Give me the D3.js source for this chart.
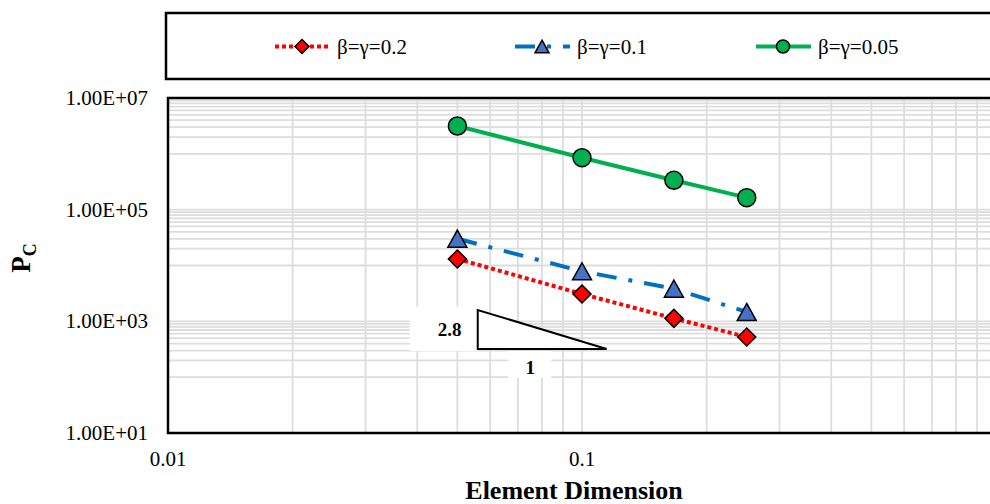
<!DOCTYPE html>
<html>
<head>
<meta charset="utf-8">
<script src="https://cdn.jsdelivr.net/npm/d3@7"></script>
<style>
  html, body { margin: 0; padding: 0; background: #fff; }
  svg { display: block; }
  svg text { font-family: "Liberation Serif", serif; }
</style>
</head>
<body>
<svg id="chart" width="990" height="504"></svg>
<script>
// ---- data ----
const elementDimension = [0.05, 0.1, 0.1667, 0.25];
const series02 = [13100, 3090, 1130, 524];      // β=γ=0.2
const series01 = [30200, 7870, 3840, 1470];     // β=γ=0.1
const series005 = [3150000, 852000, 336000, 164000]; // β=γ=0.05
const seriesNames = ["β=γ=0.2", "β=γ=0.1", "β=γ=0.05"];
const xTickLabels = [0.01, 0.1];
const yTickLabels = [10, 1000, 100000, 10000000];
// slope annotation (data coordinates)
const slopeTriX = [0.0560, 0.1147];
const slopeTriY = [319.6, 1596];
const slopeLabels = ["2.8", "1"];

// ---- layout ----
const FONT = "Liberation Serif";
const svg = d3.select("#chart");
const pLeft = 168, pTop = 98, pBottom = 433, pRight = 996;
const x = d3.scaleLog().domain([0.01, 1]).range([pLeft, pRight]);
const y = d3.scaleLog().domain([10, 1e7]).range([pBottom, pTop]);

// gridlines
const grid = svg.append("g");
grid.selectAll("line.vx").data(x.ticks().filter(v => x(v) > pLeft + 1 && x(v) < 990))
  .join("line")
  .attr("x1", d => x(d)).attr("x2", d => x(d))
  .attr("y1", pTop).attr("y2", pBottom)
  .attr("stroke", "#dddddd").attr("stroke-width", 1.8);
const yGrid = y.ticks().filter(v => {
  const e = Math.floor(Math.log10(v) + 1e-9);
  const isPow = Math.abs(v / Math.pow(10, e) - 1) < 1e-6;
  return (isPow || e % 2 === 0) && y(v) > pTop + 1 && y(v) < pBottom - 1;
});
grid.selectAll("line.hy").data(yGrid)
  .join("line")
  .attr("x1", pLeft).attr("x2", 990)
  .attr("y1", d => y(d)).attr("y2", d => y(d))
  .attr("stroke", "#dddddd").attr("stroke-width", 1.8);

// frame
svg.append("path")
  .attr("d", `M${pRight},${pTop} H${pLeft} V${pBottom} H${pRight}`)
  .attr("fill", "none").attr("stroke", "#000").attr("stroke-width", 2.5);

// axis labels
svg.append("g").selectAll("text").data(yTickLabels).join("text")
  .attr("x", 148).attr("y", d => y(d)).attr("dy", "0.34em")
  .attr("text-anchor", "end").attr("font-size", 21).attr("font-family", FONT).attr("fill", "#000")
  .text(d => {
    const e = Math.round(Math.log10(d));
    return "1.00E+" + String(e).padStart(2, "0");
  });
svg.append("g").selectAll("text").data(xTickLabels).join("text")
  .attr("x", d => x(d)).attr("y", 466)
  .attr("text-anchor", "middle").attr("font-size", 21).attr("font-family", FONT).attr("fill", "#000")
  .text(d => String(d));

svg.append("text").attr("x", 574).attr("y", 498.5).attr("text-anchor", "middle")
  .attr("font-size", 26).attr("font-family", FONT).attr("font-weight", "bold").text("Element Dimension");
const yt = svg.append("text").attr("transform", "translate(30,258) rotate(-90)")
  .attr("text-anchor", "middle").attr("font-family", FONT).attr("font-weight", "bold");
yt.append("tspan").attr("font-size", 27).text("P");
yt.append("tspan").attr("font-size", 18).attr("dy", 6).text("C");

// slope annotation
const tx0 = x(slopeTriX[0]), tx1 = x(slopeTriX[1]);
const ty0 = y(slopeTriY[1]), ty1 = y(slopeTriY[0]);
svg.append("rect").attr("x", tx0 - 68).attr("y", ty0 - 3).attr("width", 68).attr("height", ty1 - ty0 + 5).attr("fill", "#fff");
svg.append("rect").attr("x", (tx0 + tx1) / 2 - 34).attr("y", ty1 + 2).attr("width", 43).attr("height", 27).attr("fill", "#fff");
svg.append("path").attr("d", `M${tx0},${ty0} L${tx0},${ty1} L${tx1},${ty1} Z`)
  .attr("fill", "#fff").attr("stroke", "#000").attr("stroke-width", 2);
svg.append("text").attr("x", tx0 - 28).attr("y", (ty0 + ty1) / 2 + 7).attr("text-anchor", "middle")
  .attr("font-size", 19).attr("font-family", FONT).attr("font-weight", "bold").text(slopeLabels[0]);
svg.append("text").attr("x", (tx0 + tx1) / 2 - 12).attr("y", ty1 + 25).attr("text-anchor", "middle")
  .attr("font-size", 19).attr("font-family", FONT).attr("font-weight", "bold").text(slopeLabels[1]);

// series styles
const styles = [
  { values: series02, color: "#ff0000", dash: "4,3", marker: "diamond", fill: "#ff0000" },
  { values: series01, color: "#0070c0", dash: "20,12,4,12", marker: "triangle", fill: "#4472c4" },
  { values: series005, color: "#00b050", dash: null, marker: "circle", fill: "#00b050" }
];

function markerPath(type, s) {
  if (type === "diamond") return `M0,${-s} L${s},0 L0,${s} L${-s},0 Z`;
  if (type === "triangle") return `M0,${-s * 0.9} L${s},${s * 0.9} L${-s},${s * 0.9} Z`;
  return null;
}
function drawMarker(g, type, cx, cy, s, fill) {
  if (type === "circle") {
    g.append("circle").attr("cx", cx).attr("cy", cy).attr("r", s)
      .attr("fill", fill).attr("stroke", "#000").attr("stroke-width", 1.5);
  } else {
    g.append("path").attr("d", markerPath(type, s)).attr("transform", `translate(${cx},${cy})`)
      .attr("fill", fill).attr("stroke", "#000").attr("stroke-width", 1.5).attr("stroke-linejoin", "miter");
  }
}

const line = d3.line().x(d => x(d[0])).y(d => y(d[1]));
styles.forEach(st => {
  const pts = elementDimension.map((v, i) => [v, st.values[i]]);
  svg.append("path").attr("d", line(pts)).attr("fill", "none")
    .attr("stroke", st.color).attr("stroke-width", 4)
    .attr("stroke-dasharray", st.dash);
  const g = svg.append("g");
  pts.forEach(p => drawMarker(g, st.marker, x(p[0]), y(p[1]), st.marker === "triangle" ? 9.5 : 9, st.fill));
});

// legend
svg.append("rect").attr("x", 166).attr("y", 13).attr("width", 900).attr("height", 66)
  .attr("fill", "#fff").attr("stroke", "#000").attr("stroke-width", 2.5);
const legX = [275, 515, 756];
styles.forEach((st, i) => {
  const lx = legX[i], ly = 46.5;
  svg.append("line").attr("x1", lx).attr("x2", lx + 55).attr("y1", ly).attr("y2", ly)
    .attr("stroke", st.color).attr("stroke-width", 4).attr("stroke-dasharray", st.dash);
  drawMarker(svg, st.marker, lx + 27, ly, st.marker === "circle" ? 6.5 : 7, st.fill);
  svg.append("text").attr("x", lx + 62).attr("y", 53.5).attr("font-size", 21)
    .attr("font-family", FONT).text(seriesNames[i]);
});
</script>
</body>
</html>
